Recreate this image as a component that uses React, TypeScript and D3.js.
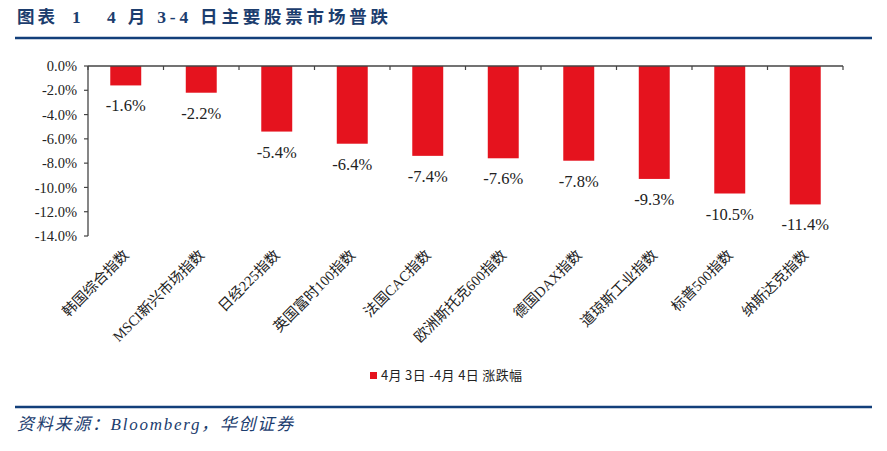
import React from "react";
import * as d3 from "d3";

const categories = ["韩国综合指数", "MSCI新兴市场指数", "日经225指数", "英国富时100指数", "法国CAC指数", "欧洲斯托克600指数", "德国DAX指数", "道琼斯工业指数", "标普500指数", "纳斯达克指数"];
const values = [-1.6, -2.2, -5.4, -6.4, -7.4, -7.6, -7.8, -9.3, -10.5, -11.4];
const yTicks = [0, -2, -4, -6, -8, -10, -12, -14];
const legendLabel = "4月 3日 -4月 4日 涨跌幅";
const titleHead = "图表";
const titleNo = "1";
const title = "4 月 3-4 日主要股票市场普跌";
const source = "资料来源：Bloomberg，华创证券";

const W = 887, H = 451;
const M = { left: 88, right: 843, top: 66, bottom: 236 };

export default function App() {
  const x = d3.scaleBand<string>().domain(categories).range([M.left, M.right]).paddingInner(0.59).paddingOuter(0.295);
  const y = d3.scaleLinear().domain([0, -14]).range([M.top, M.bottom]);
  const band = (M.right - M.left) / categories.length;
  const serif = "'Liberation Serif', 'Times New Roman', 'Noto Sans CJK SC', serif";
  const blue = "#123F7A";
  return (
    <div style={{ position: "absolute", left: 0, top: 0 }}>
      <svg width={W} height={H} style={{ display: "block", background: "#fff" }}>
        <text y={23} fontFamily={serif} fontWeight="bold" fontSize={17.5} fill="#1C3D6E">
          <tspan x={17} letterSpacing={3}>{titleHead}</tspan>
          <tspan x={72}>{titleNo}</tspan>
          <tspan x={107} textLength={281} lengthAdjust="spacing">{title}</tspan>
        </text>
        <line x1={15} x2={872} y1={38} y2={38} stroke={blue} strokeWidth={2.5} />
        {/* y axis */}
        <line x1={M.left} x2={M.left} y1={M.top} y2={M.bottom} stroke="#444" strokeWidth={1.3} />
        {yTicks.map((t) => (
          <g key={t}>
            <line x1={M.left - 4} x2={M.left} y1={y(t)} y2={y(t)} stroke="#444" strokeWidth={1.2} />
            <text x={M.left - 11} y={y(t)} dy="0.35em" textAnchor="end" fontFamily={serif} fontSize={14.5} fill="#222">{t.toFixed(1) + "%"}</text>
          </g>
        ))}
        {/* bars */}
        {categories.map((c, i) => (
          <rect key={c} x={x(c)} y={y(0)} width={x.bandwidth()} height={y(values[i]) - y(0)} fill="#E5131E" />
        ))}
        {/* x axis */}
        <line x1={M.left} x2={M.right} y1={M.top} y2={M.top} stroke="#444" strokeWidth={1.3} />
        {d3.range(categories.length + 1).map((i) => (
          <line key={i} x1={M.left + i * band} x2={M.left + i * band} y1={M.top} y2={M.top + 4} stroke="#444" strokeWidth={1.2} />
        ))}
        {/* value labels */}
        {categories.map((c, i) => (
          <text key={c} x={(x(c) as number) + x.bandwidth() / 2} y={y(values[i]) + 26} textAnchor="middle" fontFamily={serif} fontSize={16.5} fill="#222">{values[i].toFixed(1) + "%"}</text>
        ))}
        {/* category labels */}
        {categories.map((c) => {
          const cx = (x(c) as number) + x.bandwidth() / 2 + 4;
          const cy = 256;
          return (
            <text key={c} transform={`translate(${cx},${cy}) rotate(-45)`} textAnchor="end" fontFamily={serif} fontSize={14.5} fill="#222">{c}</text>
          );
        })}
        {/* legend */}
        <rect x={370} y={372} width={7} height={7} fill="#E5131E" />
        <text x={381} y={380} fontFamily="'Noto Sans CJK SC', sans-serif" fontSize={13} fill="#222" xmlSpace="preserve" textLength={141} lengthAdjust="spacing">{legendLabel}</text>
        <line x1={15} x2={872} y1={407} y2={407} stroke={blue} strokeWidth={2.5} />
        <text x={17} y={430} fontFamily={serif} fontStyle="italic" fontSize={17} fill="#1C3D6E" textLength={276} lengthAdjust="spacing">{source}</text>
      </svg>
    </div>
  );
}
